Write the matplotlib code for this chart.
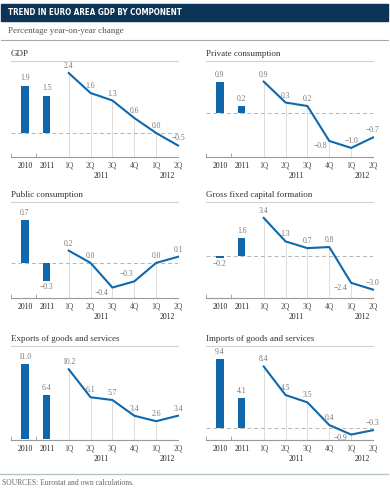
import numpy as np
import matplotlib.pyplot as plt
from matplotlib.patches import Rectangle
from matplotlib.lines import Line2D
from matplotlib import font_manager

plt.rcParams["font.family"] = ["Liberation Serif", "DejaVu Serif"]

W, H = 390, 492

categories = ["2010", "2011", "1Q", "2Q", "3Q", "4Q", "1Q", "2Q"]
years = ["2011", "2012"]
titles = ["GDP", "Private consumption", "Public consumption",
          "Gross fixed capital formation", "Exports of goods and services",
          "Imports of goods and services"]

gdp = [1.9, 1.5, 2.4, 1.6, 1.3, 0.6, 0.0, -0.5]
private = [0.9, 0.2, 0.9, 0.3, 0.2, -0.8, -1.0, -0.7]
public = [0.7, -0.3, 0.2, 0.0, -0.4, -0.3, 0.0, 0.1]
gfcf = [-0.2, 1.6, 3.4, 1.3, 0.7, 0.8, -2.4, -3.0]
exports = [11.0, 6.4, 10.2, 6.1, 5.7, 3.4, 2.6, 3.4]
imports = [9.4, 4.1, 8.4, 4.5, 3.5, 0.4, -0.9, -0.3]
series = [gdp, private, public, gfcf, exports, imports]

# layout in pixels
cols = [(11, 178), (206, 373)]
rows = [(61, 157), (202, 298), (346, 440)]
ylims = [(-0.96, 2.88), (-1.26, 1.49), (-0.57, 0.99),
         (-3.75, 4.82), (-0.15, 13.6), (-1.64, 11.2)]

# label placement tweaks: (panel, point) -> (dx, dy, ha, va)
label_pos = {
    (1, 5): (-2, -1, "right", "top"),
    (2, 4): (-4, -1, "right", "top"),
    (2, 5): (-1, 3, "right", "bottom"),
    (3, 6): (-4, -5, "right", "center"),
    (5, 6): (-4, -3, "right", "center"),
}

NAVY = "#0b3457"
BLUE = "#0f68ab"
GRID = "#dddddd"
LABEL = "#777777"


def px_box(x0, x1, y0, y1):
    return [x0 / W, 1 - y1 / H, (x1 - x0) / W, (y1 - y0) / H]


installed = {f.name for f in font_manager.fontManager.ttflist}
head_family = "Liberation Sans Narrow" if "Liberation Sans Narrow" in installed else "DejaVu Sans"

fig = plt.figure(figsize=(W / 100, H / 100), dpi=100)

fig.patches.append(Rectangle((1 / W, 1 - 21 / H), 387 / W, 17 / H,
                             transform=fig.transFigure, color=NAVY))
head = fig.text(8 / W, 1 - 12.5 / H, "TREND IN EURO AREA GDP BY COMPONENT",
                family=head_family, weight="bold", stretch="condensed",
                color="white", fontsize=7, va="center", ha="left")
# shrink the heading to the width it has in the original
renderer = fig.canvas.get_renderer()
wpx = head.get_window_extent(renderer).width
if wpx > 176:
    head.set_fontsize(7 * 174 / wpx)

fig.text(8 / W, 1 - 31 / H, "Percentage year-on-year change",
         color="#555555", fontsize=6.5, va="center", ha="left")
fig.add_artist(Line2D([1 / W, 388 / W], [1 - 40 / H] * 2, color="#a8a8a8", lw=0.8))
fig.add_artist(Line2D([0, 388 / W], [1 - 474 / H] * 2, color="#b5c3cd", lw=1))
fig.text(2 / W, 1 - 483 / H, "SOURCES: Eurostat and own calculations.",
         color="#666666", fontsize=5.5, va="center", ha="left")

x = np.arange(len(categories))
for i, vals in enumerate(series):
    r, c = divmod(i, 2)
    ax = fig.add_axes(px_box(*cols[c], *rows[r]))
    lo, hi = ylims[i]
    ax.set_xlim(-0.64, 7)
    ax.set_ylim(lo, hi)

    ax.bar(x[:2], vals[:2], width=0.33, color=BLUE, zorder=3)
    ax.vlines(x[2:], lo, vals[2:], color=GRID, lw=0.7, zorder=1)
    ax.plot(x[2:], vals[2:], color=BLUE, lw=1.5, zorder=4, clip_on=False)
    if lo < -0.2:
        ax.axhline(0, color="#b5b5b5", lw=0.7, ls=(0, (4, 3)), zorder=2)

    for j, v in enumerate(vals):
        if (i, j) in label_pos:
            dx, dy, ha, va = label_pos[(i, j)]
        elif j < 2 and v < 0:
            dx, dy, ha, va = 0, -2, "center", "top"
        else:
            dx, dy, ha, va = 0, 3, "center", "bottom"
        ax.annotate(f"{v:.1f}".replace("-", "\u2212"), (x[j], v),
                    xytext=(dx, dy), textcoords="offset pixels",
                    ha=ha, va=va, fontsize=5.5, color=LABEL,
                    annotation_clip=False, zorder=5)

    ax.annotate(titles[i], (0, 1), xycoords="axes fraction",
                xytext=(0, 3), textcoords="offset pixels",
                ha="left", va="bottom", fontsize=6.5, color="#333333")

    for pos, yr in zip([3.5, 6.5], years):
        ax.annotate(yr, (pos, 0), xycoords=("data", "axes fraction"),
                    xytext=(0, -19), textcoords="offset pixels",
                    ha="center", va="center", fontsize=5.5, color="#222222")

    for s in ["left", "right"]:
        ax.spines[s].set_visible(False)
    ax.spines["top"].set_color("#d0d0d0")
    ax.spines["top"].set_linewidth(0.8)
    ax.spines["bottom"].set_color("#999999")
    ax.spines["bottom"].set_linewidth(0.8)

    ax.set_yticks([])
    ax.set_xticks(x, categories)
    ax.tick_params(axis="x", which="major", length=0, pad=3.5, labelsize=5.5)
    ax.set_xticks([-0.64, 0.5, 2, 3, 4, 5, 6, 7], minor=True)
    ax.tick_params(axis="x", which="minor", length=3, width=0.6,
                   direction="in", color="#999999")
    for k, lab in enumerate(ax.get_xticklabels()):
        lab.set_color("#222222" if k < 2 else "#555555")

fig.savefig("out.png", dpi=100)
